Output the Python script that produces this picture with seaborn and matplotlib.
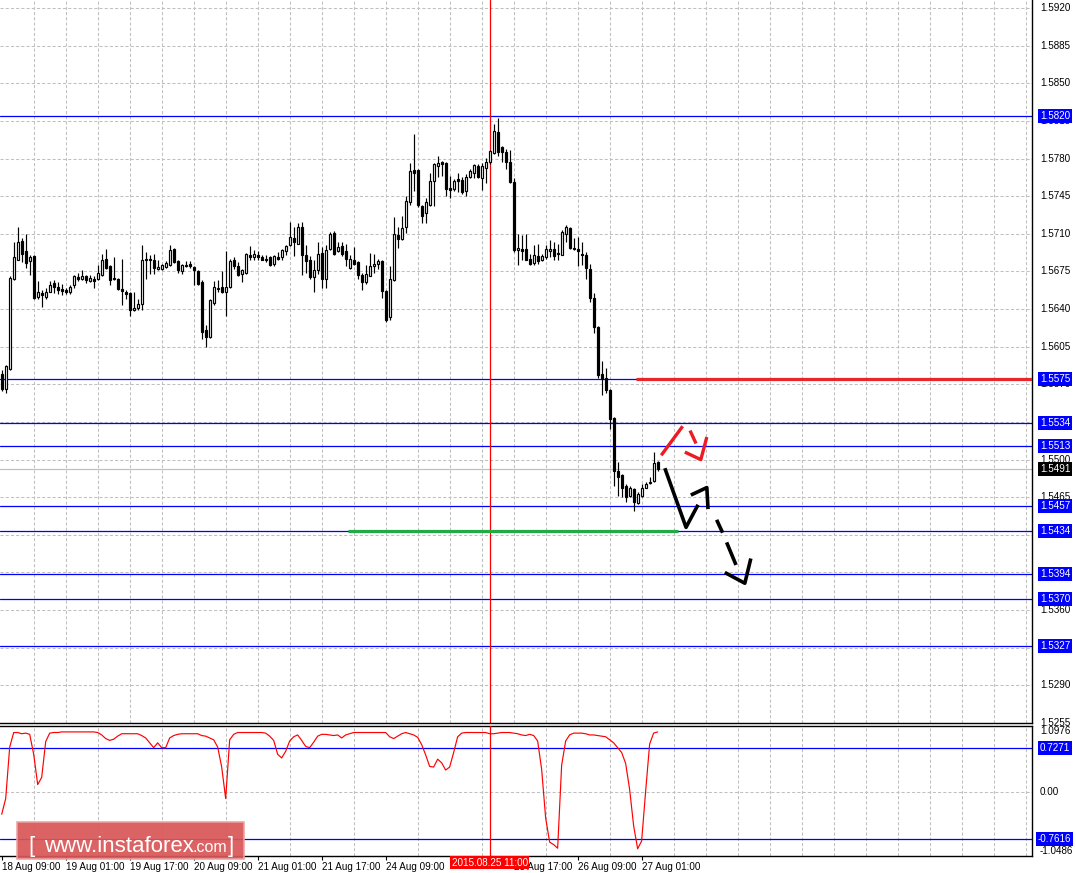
import numpy as np
import pandas as pd
import matplotlib
matplotlib.use("Agg")
import matplotlib.pyplot as plt
import matplotlib.transforms as mtransforms
from matplotlib.patches import Rectangle
import seaborn as sns

# H1 candles from 18 Aug 09:00, prices in pips (15580 -> 1.5580)
opens = [15580, 15566, 15584, 15668, 15686, 15703, 15694, 15685, 15689, 15651,
         15655, 15651, 15656, 15664, 15661, 15659, 15658, 15656, 15662, 15670,
         15668, 15671, 15666, 15668, 15668, 15672, 15687, 15680, 15669, 15668,
         15659, 15656, 15655, 15639, 15641, 15645, 15686, 15687, 15686, 15677,
         15677, 15679, 15681, 15696, 15685, 15675, 15681, 15682, 15679, 15675,
         15665, 15621, 15614, 15646, 15659, 15661, 15656, 15661, 15686, 15680,
         15673, 15674, 15690, 15688, 15690, 15688, 15687, 15688, 15682, 15688,
         15688, 15694, 15700, 15706, 15701, 15716, 15690, 15686, 15670, 15676,
         15692, 15668, 15696, 15711, 15694, 15699, 15694, 15678, 15686, 15684,
         15672, 15665, 15671, 15680, 15682, 15685, 15657, 15633, 15667, 15709,
         15705, 15716, 15740, 15769, 15769, 15736, 15729, 15737, 15759, 15773,
         15777, 15776, 15753, 15752, 15761, 15760, 15750, 15763, 15767, 15773,
         15762, 15771, 15777, 15785, 15805, 15791, 15786, 15777, 15758, 15695,
         15696, 15696, 15687, 15683, 15689, 15686, 15688, 15694, 15696, 15692,
         15690, 15710, 15715, 15697, 15696, 15691, 15690, 15677, 15650, 15623,
         15580, 15576, 15565, 15539, 15489, 15486, 15475, 15466, 15473, 15460,
         15466, 15474, 15478, 15480, 15498]
highs = [15583, 15588, 15671, 15702, 15716, 15706, 15710, 15690, 15690, 15666,
         15658, 15660, 15666, 15667, 15665, 15663, 15660, 15662, 15672, 15674,
         15676, 15672, 15672, 15671, 15681, 15691, 15696, 15681, 15688, 15669,
         15687, 15658, 15656, 15656, 15649, 15700, 15693, 15690, 15691, 15686,
         15682, 15685, 15700, 15697, 15686, 15682, 15685, 15685, 15680, 15676,
         15667, 15625, 15649, 15666, 15667, 15675, 15694, 15687, 15688, 15684,
         15677, 15692, 15699, 15695, 15694, 15690, 15690, 15689, 15690, 15693,
         15696, 15700, 15721, 15716, 15720, 15721, 15700, 15689, 15686, 15702,
         15698, 15700, 15712, 15713, 15702, 15702, 15701, 15690, 15698, 15685,
         15674, 15681, 15692, 15691, 15687, 15686, 15658, 15680, 15726, 15716,
         15727, 15745, 15776, 15803, 15770, 15737, 15743, 15767, 15776, 15782,
         15778, 15777, 15764, 15761, 15767, 15763, 15766, 15770, 15775, 15775,
         15776, 15781, 15788, 15812, 15818, 15792, 15789, 15788, 15762, 15710,
         15709, 15710, 15691, 15700, 15701, 15691, 15700, 15704, 15702, 15701,
         15714, 15718, 15716, 15706, 15707, 15702, 15693, 15682, 15655, 15624,
         15592, 15585, 15566, 15540, 15498, 15487, 15477, 15475, 15474, 15470,
         15477, 15479, 15484, 15507, 15499]
lows = [15564, 15562, 15583, 15667, 15686, 15684, 15678, 15672, 15649, 15649,
        15642, 15649, 15656, 15655, 15654, 15653, 15654, 15654, 15660, 15666,
        15667, 15664, 15665, 15660, 15667, 15671, 15677, 15662, 15667, 15658,
        15644, 15649, 15634, 15638, 15639, 15639, 15668, 15673, 15673, 15676,
        15676, 15678, 15680, 15683, 15674, 15673, 15679, 15678, 15662, 15662,
        15612, 15605, 15613, 15644, 15656, 15655, 15634, 15660, 15677, 15671,
        15665, 15673, 15686, 15686, 15686, 15686, 15684, 15680, 15680, 15686,
        15686, 15690, 15699, 15689, 15701, 15672, 15674, 15668, 15656, 15673,
        15660, 15660, 15695, 15690, 15693, 15689, 15680, 15677, 15681, 15668,
        15658, 15663, 15671, 15674, 15677, 15650, 15628, 15630, 15666, 15697,
        15704, 15711, 15737, 15750, 15735, 15720, 15720, 15736, 15736, 15763,
        15764, 15745, 15743, 15750, 15749, 15747, 15745, 15762, 15762, 15762,
        15751, 15757, 15775, 15784, 15782, 15777, 15770, 15757, 15693, 15681,
        15686, 15686, 15681, 15681, 15682, 15685, 15687, 15688, 15686, 15686,
        15690, 15702, 15696, 15695, 15680, 15681, 15668, 15647, 15618, 15576,
        15560, 15562, 15528, 15475, 15466, 15465, 15461, 15465, 15452, 15459,
        15465, 15474, 15477, 15479, 15489]
closes = [15566, 15587, 15669, 15688, 15702, 15691, 15683, 15688, 15650, 15656,
          15653, 15656, 15662, 15661, 15658, 15657, 15656, 15661, 15671, 15668,
          15671, 15667, 15669, 15666, 15674, 15686, 15678, 15667, 15668, 15659,
          15657, 15654, 15639, 15641, 15645, 15686, 15687, 15686, 15678, 15679,
          15681, 15683, 15695, 15684, 15676, 15681, 15680, 15680, 15676, 15663,
          15619, 15614, 15648, 15661, 15660, 15656, 15661, 15685, 15680, 15672,
          15676, 15691, 15688, 15691, 15688, 15686, 15686, 15681, 15689, 15687,
          15695, 15699, 15707, 15702, 15716, 15690, 15685, 15670, 15676, 15691,
          15668, 15695, 15710, 15691, 15698, 15691, 15687, 15687, 15682, 15672,
          15665, 15673, 15680, 15682, 15685, 15657, 15630, 15668, 15710, 15705,
          15715, 15741, 15768, 15767, 15737, 15727, 15740, 15759, 15775, 15776,
          15775, 15752, 15751, 15759, 15759, 15749, 15763, 15768, 15774, 15763,
          15773, 15777, 15787, 15806, 15786, 15786, 15777, 15758, 15695, 15697,
          15694, 15686, 15682, 15690, 15685, 15689, 15696, 15696, 15689, 15691,
          15712, 15716, 15697, 15696, 15694, 15690, 15678, 15650, 15623, 15579,
          15575, 15565, 15538, 15489, 15484, 15474, 15465, 15474, 15461, 15468,
          15474, 15477, 15479, 15497, 15491]

# oscillator in the lower window
osc = [-0.36, -0.10, 0.75, 0.99, 0.99, 0.97, 0.98, 0.96, 0.63, 0.13,
       0.25, 0.84, 0.98, 0.99, 0.99, 1.0, 1.0, 1.0, 1.0, 1.0,
       1.0, 1.0, 1.0, 1.0, 0.99, 0.95, 0.89, 0.86, 0.88, 0.93,
       0.97, 0.97, 0.97, 0.97, 0.97, 0.94, 0.90, 0.82, 0.74, 0.82,
       0.74, 0.74, 0.90, 0.94, 0.96, 0.97, 0.97, 0.97, 0.97, 0.97,
       0.94, 0.93, 0.90, 0.87, 0.75, 0.42, -0.10, 0.87, 0.96, 0.99,
       0.99, 0.99, 0.99, 0.99, 0.99, 0.99, 0.98, 0.93, 0.86, 0.63,
       0.57, 0.68, 0.85, 0.92, 0.95, 0.86, 0.76, 0.74, 0.83, 0.93,
       0.96, 0.96, 0.95, 0.94, 0.95, 0.90, 0.95, 0.97, 0.99, 0.99,
       0.99, 0.99, 0.99, 0.99, 0.99, 0.99, 0.99, 0.92, 0.89, 0.93,
       0.97, 0.99, 0.97, 0.95, 0.91, 0.79, 0.62, 0.43, 0.42, 0.55,
       0.49, 0.37, 0.42, 0.66, 0.92, 0.98, 0.99, 0.99, 0.99, 0.99,
       0.99, 0.99, 0.97, 0.97, 0.98, 0.99, 0.99, 0.99, 0.98, 0.97,
       0.95, 0.94, 0.96, 0.94, 0.85, 0.38, -0.42, -0.82, -0.86, -0.92,
       0.45, 0.85, 0.95, 0.98, 0.98, 0.98, 0.97, 0.95, 0.95, 0.94,
       0.93, 0.92, 0.87, 0.82, 0.74, 0.66, 0.48, 0.05, -0.55, -0.93,
       -0.80, 0.02, 0.80, 0.98, 1.0]

time_label_bars = [0, 16, 32, 48, 64, 80, 96, 112, 128, 144, 160]
# 25 Aug 01:00 sits completely under the crosshair time box
time_labels = ["18 Aug 09:00", "19 Aug 01:00", "19 Aug 17:00", "20 Aug 09:00",
               "21 Aug 01:00", "21 Aug 17:00", "24 Aug 09:00", "",
               "25 Aug 17:00", "26 Aug 09:00", "27 Aug 01:00"]

price_ticks = [1.5920, 1.5885, 1.5850, 1.5815, 1.5780, 1.5745, 1.5710, 1.5675,
               1.5640, 1.5605, 1.5570, 1.5535, 1.5500, 1.5465, 1.5430, 1.5395,
               1.5360, 1.5325, 1.5290, 1.5255]
# tick labels fully covered by level boxes in the terminal
hidden_ticks = [1.5535, 1.5395, 1.5325]
levels = [1.5820, 1.5575, 1.5534, 1.5513, 1.5457, 1.5434, 1.5394, 1.5370, 1.5327]
last_price = 1.5491

osc_levels = [0.7271, -0.7616]
osc_max, osc_min = 1.0976, -1.0486

cross_bar = 122
cross_label = "2015.08.25 11:00"

# drawn resistance / support segments: (start bar, end bar, price)
resistance = (158.6, 257.6, 1.5575)
support = (86.6, 169.1, 1.5434)

# hand drawn projection strokes, (bar, pips)
red_strokes = [
    [(164.9, 15504), (170.25, 15531)],
    [(172.1, 15527), (173.6, 15515)],
    [(170.8, 15507), (174.8, 15500), (176.3, 15521)],
]
black_strokes = [
    [(165.8, 15492), (171.1, 15437), (174.1, 15458)],
    [(172.3, 15467), (176.3, 15474), (176.6, 15454)],
    [(178.75, 15444), (180.25, 15432)],
    [(181.25, 15423), (183.6, 15402)],
    [(180.8, 15395), (185.8, 15385), (187.3, 15408)],
]

df = pd.DataFrame({"open": opens, "high": highs, "low": lows, "close": closes}) / 1e4
df["bar"] = np.arange(len(df))
df["osc"] = osc
df["bull"] = df["close"] >= df["open"]

sns.set_theme(style="white")
plt.rcParams["font.family"] = ["Liberation Sans", "DejaVu Sans"]

W, H = 1076, 873
fig = plt.figure(figsize=(W / 100, H / 100), dpi=100)
fig.patch.set_facecolor("white")
ax = fig.add_axes([0, 1 - 723 / H, 1032 / W, 723 / H])
ax2 = fig.add_axes([0, 1 - 856 / H, 1032 / W, 130 / H])

xlim = (-0.425, 257.6)
for a in (ax, ax2):
    a.set_facecolor("white")
    a.set_xlim(*xlim)
    a.spines["left"].set_visible(False)
    for side in ("right", "bottom", "top"):
        a.spines[side].set_color("black")
        a.spines[side].set_linewidth(1.0)
ax.spines["top"].set_visible(False)

ax.set_ylim(1.52594, 1.59275)
ax2.set_ylim(osc_min, osc_max)

grid_kw = dict(color="#c0c0c0", linewidth=0.75, linestyle=(0, (3, 2)))
ax.set_xticks(np.arange(8, 257, 8))
ax.set_yticks(price_ticks)
ax.grid(True, **grid_kw)
ax.tick_params(length=0, labelbottom=False, labelleft=False)

ax2.set_xticks(time_label_bars)
ax2.set_xticks(np.arange(8, 257, 8), minor=True)
ax2.set_yticks([0.0])
ax2.grid(True, which="minor", axis="x", **grid_kw)
ax2.grid(True, which="major", axis="y", **grid_kw)
fs = 7.1
ax2.set_xticklabels(time_labels, ha="left", fontsize=fs, color="black")
ax2.tick_params(axis="x", which="major", direction="out", length=3, width=0.8,
                color="black", pad=1.5, bottom=True)
ax2.tick_params(axis="x", which="minor", length=0)
ax2.tick_params(axis="y", length=0, labelleft=False)
for lbl in ax2.get_xticklabels():
    lbl.set_transform(lbl.get_transform() + mtransforms.ScaledTranslation(0.5 / 100, 0, fig.dpi_scale_trans))

# levels
for lv in levels:
    ax.axhline(lv, color="#0000ff", linewidth=0.9, zorder=1.5)
ax.axhline(last_price, color="#c0c0c0", linewidth=0.9, zorder=1.5)
ax.axvline(cross_bar, color="#ff0000", linewidth=0.9, zorder=1.6)

# candles
ax.vlines(df["bar"], df["low"], df["high"], color="black", linewidth=0.85, zorder=3)
body_bottom = df[["open", "close"]].min(axis=1)
body_h = (df["close"] - df["open"]).abs()
ax.bar(df["bar"], body_h, bottom=body_bottom, width=0.55,
       color=np.where(df["bull"], "white", "black"), edgecolor="black",
       linewidth=0.85, zorder=4)

ax.hlines(resistance[2], resistance[0], resistance[1], color="#e8262b", linewidth=2.3, zorder=5)
ax.hlines(support[2], support[0], support[1], color="#22aa44", linewidth=2.3, zorder=5)

for stroke in red_strokes:
    xs, ys = zip(*stroke)
    ax.plot(xs, np.array(ys) / 1e4, color="#ed1c24", linewidth=2.4,
            solid_capstyle="butt", zorder=6)
for stroke in black_strokes:
    xs, ys = zip(*stroke)
    ax.plot(xs, np.array(ys) / 1e4, color="black", linewidth=2.6,
            solid_capstyle="butt", zorder=6)

# oscillator window
sns.lineplot(data=df, x="bar", y="osc", ax=ax2, color="#ff0000", linewidth=0.85, zorder=4)
ax2.set_xlabel("")
ax2.set_ylabel("")
for lv in osc_levels:
    ax2.axhline(lv, color="#0000ff", linewidth=0.9, zorder=2)
ax2.axvline(cross_bar, color="#ff0000", linewidth=0.9, zorder=3)

# right axis labels
tr_main = mtransforms.offset_copy(ax.get_yaxis_transform(), fig=fig, x=8, y=0, units="dots")
for t in price_ticks:
    if t in hidden_ticks:
        continue
    ax.text(1.0, t, f"{t:.4f}", transform=tr_main, ha="left", va="center",
            fontsize=fs, color="black", clip_on=False, zorder=6)
box = dict(boxstyle="square,pad=0.2", fc="#0000ff", ec="none")
for lv in levels:
    ax.text(1.0, lv, f"{lv:.4f}", transform=tr_main, ha="left", va="center",
            fontsize=fs, color="white", bbox=box, clip_on=False, zorder=7)
ax.text(1.0, last_price, f"{last_price:.4f}", transform=tr_main, ha="left", va="center",
        fontsize=fs, color="white", bbox=dict(boxstyle="square,pad=0.2", fc="black", ec="none"),
        clip_on=False, zorder=7)

tr_osc = mtransforms.offset_copy(ax2.get_yaxis_transform(), fig=fig, x=8, y=0, units="dots")
ax2.text(1.0, osc_max, f"{osc_max:.4f}", transform=tr_osc, ha="left", va="top",
         fontsize=fs, color="black", clip_on=False)
ax2.text(1.0, 0.0, "0.00", transform=tr_osc, ha="left", va="center",
         fontsize=fs, color="black", clip_on=False)
ax2.text(1.0, osc_min, f"{osc_min:.4f}", transform=tr_osc, ha="left", va="bottom",
         fontsize=fs, color="black", clip_on=False)
tr_osc2 = mtransforms.offset_copy(ax2.get_yaxis_transform(), fig=fig, x=6, y=0, units="dots")
for lv in osc_levels:
    ax2.text(1.0, lv, f"{lv:.4f}", transform=tr_osc2 if lv < 0 else tr_osc, ha="left",
             va="center", fontsize=fs, color="white", bbox=box, clip_on=False, zorder=7)

# crosshair time label
ax2.text(cross_bar, -0.012, cross_label, transform=ax2.get_xaxis_transform(),
         ha="center", va="top", fontsize=fs, color="white", clip_on=False, zorder=8,
         bbox=dict(boxstyle="square,pad=0.15", fc="#ff0000", ec="none"))

# watermark
fig.add_artist(Rectangle((17 / W, 1 - 859 / H), 227 / W, 37 / H, transform=fig.transFigure,
                         facecolor="#d95757", edgecolor="#eaa3a3", linewidth=1.2,
                         alpha=0.93, zorder=10))
fig.text(28 / W, 1 - 852 / H, "[", color="white", fontsize=16, zorder=11)
fig.text(44 / W, 1 - 852 / H, "www.instaforex", color="white", fontsize=16, zorder=11)
fig.text(193 / W, 1 - 852 / H, ".com", color="white", fontsize=11.5, zorder=11)
fig.text(228 / W, 1 - 852 / H, "]", color="white", fontsize=16, zorder=11)

fig.savefig("out.png", dpi=100, facecolor="white")
